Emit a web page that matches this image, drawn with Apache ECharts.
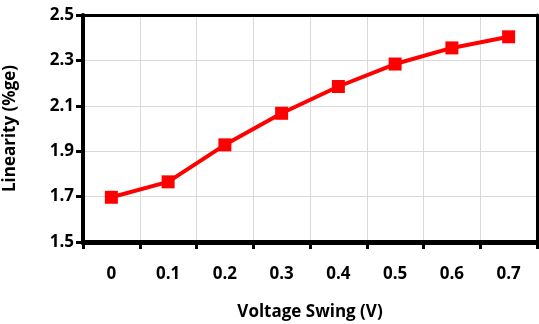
<!DOCTYPE html>
<html>
<head>
<meta charset="utf-8">
<script src="https://cdn.jsdelivr.net/npm/echarts@6/dist/echarts.min.js"></script>
<style>
  html, body { margin: 0; padding: 0; background: #fff; }
  #chart { width: 539px; height: 324px; }
</style>
</head>
<body>
<div id="chart"></div>
<script>
// data
var swing = ['0', '0.1', '0.2', '0.3', '0.4', '0.5', '0.6', '0.7'];
var linearity = [1.697, 1.765, 1.928, 2.067, 2.185, 2.284, 2.355, 2.404];

var font = '"Open Sans", Lato, sans-serif';
var bold = { fontFamily: font, fontWeight: 'bold', fontSize: 17, color: '#000' };

// frame on the top and right sides
var frame = {
  axisLine: { show: true, onZero: false, lineStyle: { color: '#000', width: 3 } },
  axisTick: { show: false },
  axisLabel: { show: false },
  splitLine: { show: false }
};

var chart = echarts.init(document.getElementById('chart'));
chart.setOption({
  animation: false,
  grid: {
    left: 83, right: 2, top: 15, bottom: 82,
    outerBoundsMode: 'none',
    show: false
  },
  xAxis: [{
    type: 'category',
    data: swing,
    name: 'Voltage Swing (V)',
    nameLocation: 'middle',
    nameGap: 62,
    nameTextStyle: bold,
    axisLine: { show: true, onZero: false, lineStyle: { color: '#000', width: 5 } },
    axisTick: { show: true, length: 7, lineStyle: { color: '#000', width: 3 } },
    axisLabel: Object.assign({ margin: 24 }, bold),
    splitLine: { show: true, lineStyle: { color: '#d9d9d9', width: 1 } }
  }, Object.assign({ type: 'category', data: swing, position: 'top' }, frame)],
  yAxis: [{
    type: 'value',
    min: 1.5, max: 2.5, interval: 0.2,
    name: 'Linearity (%ge)',
    nameLocation: 'middle',
    nameGap: 64,
    nameTextStyle: bold,
    axisLine: { show: true, lineStyle: { color: '#000', width: 4 } },
    axisTick: { show: true, length: 7, lineStyle: { color: '#000', width: 3 } },
    axisLabel: Object.assign({
      margin: 9,
      formatter: function (v) { return v.toFixed(1); }
    }, bold),
    splitLine: { show: true, lineStyle: { color: '#d9d9d9', width: 1 } }
  }, Object.assign({ type: 'value', min: 1.5, max: 2.5, interval: 0.2, position: 'right' }, frame)],
  series: [{
    type: 'line',
    data: linearity,
    symbol: 'rect',
    symbolSize: 13,
    lineStyle: { color: '#ff0000', width: 4 },
    itemStyle: { color: '#ff0000' }
  }]
});
</script>
</body>
</html>
